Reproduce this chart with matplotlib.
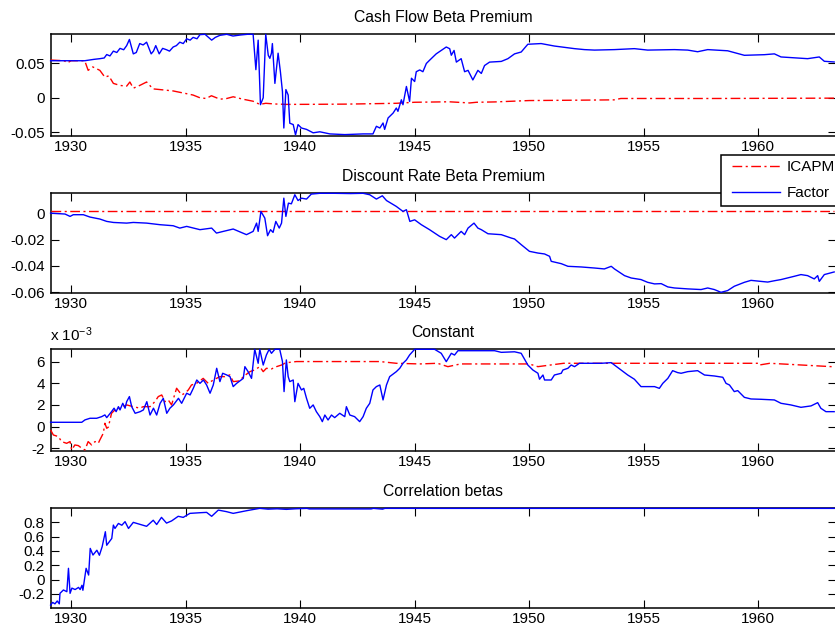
import numpy as np
import matplotlib
matplotlib.use('Agg')
import matplotlib.pyplot as plt
from matplotlib.lines import Line2D
from matplotlib.patches import Rectangle
from matplotlib.legend_handler import HandlerLine2D

plt.rcParams['font.family'] = 'Liberation Sans'
plt.rcParams['font.size'] = 11
plt.rcParams['axes.unicode_minus'] = False
plt.rcParams['mathtext.default'] = 'regular'

# ── data ────────────────────────────────────────────────────────────────────
# Cash flow beta premium
cf_factor_year = [
    1929.11, 1930.60, 1930.80, 1931.00, 1931.26, 1931.45, 1931.56, 1931.70, 1931.85, 1932.00,
    1932.14, 1932.30, 1932.43, 1932.55, 1932.72, 1932.85, 1933.00, 1933.15, 1933.30, 1933.50,
    1933.60, 1933.70, 1933.85, 1934.00, 1934.17, 1934.30, 1934.46, 1934.60, 1934.75, 1934.90,
    1935.05, 1935.20, 1935.33, 1935.50, 1935.63, 1935.85, 1936.00, 1936.14, 1936.30, 1936.50,
    1936.80, 1937.07, 1937.40, 1937.70, 1937.95, 1938.07, 1938.17, 1938.27, 1938.39, 1938.50,
    1938.61, 1938.68, 1938.75, 1938.79, 1938.90, 1939.04, 1939.14, 1939.23, 1939.29, 1939.38,
    1939.48, 1939.55, 1939.70, 1939.80, 1939.91, 1940.06, 1940.28, 1940.57, 1940.86, 1941.30,
    1941.95, 1942.75, 1943.18, 1943.33, 1943.48, 1943.62, 1943.69, 1943.84, 1944.06, 1944.20,
    1944.27, 1944.42, 1944.49, 1944.64, 1944.78, 1944.86, 1945.00, 1945.07, 1945.22, 1945.36,
    1945.51, 1945.66, 1945.94, 1946.16, 1946.38, 1946.53, 1946.60, 1946.72, 1946.82, 1947.03,
    1947.18, 1947.33, 1947.54, 1947.76, 1947.91, 1948.05, 1948.27, 1948.78, 1949.07, 1949.36,
    1949.65, 1949.94, 1950.52, 1951.10, 1951.98, 1952.41, 1952.85, 1953.72, 1954.59, 1955.17,
    1956.34, 1956.92, 1957.35, 1957.79, 1958.66, 1959.39, 1960.26, 1960.70, 1960.99, 1962.15,
    1962.66, 1962.88, 1963.31]
cf_factor = [
    0.054, 0.054, 0.055, 0.056, 0.057, 0.058, 0.063, 0.061, 0.068, 0.066,
    0.072, 0.070, 0.076, 0.085, 0.064, 0.066, 0.079, 0.077, 0.081, 0.064,
    0.068, 0.076, 0.064, 0.072, 0.070, 0.068, 0.074, 0.076, 0.081, 0.079,
    0.086, 0.084, 0.088, 0.086, 0.092, 0.0925, 0.088, 0.084, 0.088, 0.091,
    0.0925, 0.090, 0.0915, 0.0925, 0.0925, 0.041, 0.084, -0.010, 0.000, 0.0925,
    0.062, 0.0575, 0.065, 0.079, 0.021, 0.065, 0.038, 0.009, -0.044, 0.012,
    0.004, -0.037, -0.039, -0.054, -0.039, -0.044, -0.046, -0.051, -0.0495, -0.0526,
    -0.0536, -0.0526, -0.0526, -0.0415, -0.044, -0.0367, -0.046, -0.0294, -0.0222, -0.0149,
    -0.0197, -0.0029, -0.0101, 0.0165, -0.0053, 0.0285, 0.0237, 0.038, 0.0406, 0.038,
    0.050, 0.055, 0.064, 0.069, 0.074, 0.0715, 0.062, 0.069, 0.052, 0.057,
    0.038, 0.040, 0.026, 0.040, 0.0355, 0.047, 0.052, 0.053, 0.057, 0.064,
    0.0667, 0.078, 0.079, 0.0754, 0.0716, 0.0702, 0.0695, 0.0702, 0.0716, 0.0695,
    0.0702, 0.0695, 0.0671, 0.0702, 0.0685, 0.0619, 0.0628, 0.064, 0.0595, 0.057,
    0.0595, 0.0532, 0.0522]
cf_icapm_year = [
    1929.11, 1929.70, 1929.85, 1930.00, 1930.60, 1930.75, 1930.95, 1931.26, 1931.48, 1931.65,
    1931.85, 1932.14, 1932.43, 1932.57, 1932.72, 1933.00, 1933.30, 1933.58, 1933.88, 1934.17,
    1934.46, 1934.75, 1935.05, 1935.33, 1935.63, 1935.90, 1936.13, 1936.50, 1936.80, 1937.08,
    1937.50, 1937.95, 1938.24, 1938.50, 1938.90, 1939.40, 1940.50, 1942.00, 1943.30, 1944.20,
    1945.00, 1946.50, 1947.40, 1947.70, 1948.50, 1950.00, 1952.00, 1953.70, 1954.00, 1958.00,
    1963.31]
cf_icapm = [
    0.055, 0.054, 0.051, 0.054, 0.054, 0.040, 0.045, 0.040, 0.030, 0.032,
    0.021, 0.018, 0.017, 0.023, 0.014, 0.018, 0.023, 0.013, 0.012, 0.011,
    0.010, 0.008, 0.006, 0.004, 0.000, -0.001, 0.003, -0.002, -0.001, 0.0015,
    -0.002, -0.005, -0.0096, -0.008, -0.009, -0.0096, -0.0095, -0.0092, -0.0085, -0.008,
    -0.0065, -0.0058, -0.0075, -0.0065, -0.006, -0.004, -0.0035, -0.003, -0.001, -0.001,
    -0.0005]

# Discount rate beta premium
dr_factor_year = [
    1929.11, 1929.74, 1929.96, 1930.10, 1930.54, 1930.83, 1931.26, 1931.56, 1931.85, 1932.43,
    1932.72, 1933.30, 1933.88, 1934.46, 1934.75, 1935.05, 1935.63, 1936.14, 1936.35, 1936.65,
    1937.08, 1937.66, 1937.95, 1938.10, 1938.17, 1938.29, 1938.46, 1938.58, 1938.71, 1938.82,
    1938.94, 1939.09, 1939.19, 1939.29, 1939.38, 1939.49, 1939.62, 1939.77, 1939.91, 1940.06,
    1940.28, 1940.49, 1940.86, 1941.50, 1942.20, 1942.75, 1943.04, 1943.33, 1943.59, 1943.77,
    1944.20, 1944.49, 1944.64, 1944.79, 1945.00, 1945.29, 1945.65, 1946.09, 1946.38, 1946.60,
    1946.74, 1947.03, 1947.18, 1947.33, 1947.59, 1947.76, 1947.91, 1948.20, 1948.78, 1949.22,
    1949.36, 1949.65, 1950.01, 1950.38, 1950.67, 1950.89, 1950.96, 1951.40, 1951.69, 1952.27,
    1952.85, 1953.28, 1953.58, 1953.72, 1954.16, 1954.45, 1954.88, 1955.17, 1955.47, 1955.76,
    1956.05, 1956.34, 1956.92, 1957.50, 1957.79, 1958.08, 1958.37, 1958.66, 1958.95, 1959.39,
    1959.68, 1960.12, 1960.41, 1960.70, 1960.99, 1961.57, 1961.86, 1962.15, 1962.44, 1962.59,
    1962.66, 1962.88, 1963.31]
dr_factor = [
    0.0001, -0.0006, -0.0024, -0.0011, -0.0011, -0.0029, -0.0044, -0.0062, -0.0070, -0.0075,
    -0.0070, -0.0075, -0.0087, -0.0095, -0.0113, -0.0100, -0.0125, -0.0113, -0.0151, -0.0138,
    -0.0120, -0.0163, -0.0138, -0.0075, -0.0138, 0.0014, -0.0037, -0.0171, -0.0125, -0.0146,
    -0.0062, -0.0113, -0.0075, 0.0115, -0.0024, 0.0077, 0.0072, 0.0141, 0.0097, 0.0115,
    0.0108, 0.0146, 0.0152, 0.0152, 0.0150, 0.0152, 0.0141, 0.0108, 0.0133, 0.0097,
    0.0052, 0.0014, 0.0027, -0.0062, -0.0050, -0.0087, -0.0125, -0.0176, -0.0201, -0.0163,
    -0.0189, -0.0138, -0.0163, -0.0113, -0.0075, -0.0113, -0.0125, -0.0156, -0.0163, -0.0189,
    -0.0196, -0.0239, -0.0290, -0.0303, -0.0310, -0.0328, -0.0366, -0.0384, -0.0404, -0.0409,
    -0.0417, -0.0424, -0.0404, -0.0424, -0.0475, -0.0493, -0.0505, -0.0526, -0.0538, -0.0536,
    -0.0561, -0.0569, -0.0576, -0.0581, -0.0569, -0.0581, -0.0602, -0.0589, -0.0556, -0.0526,
    -0.0511, -0.0519, -0.0524, -0.0514, -0.0505, -0.0480, -0.0467, -0.0475, -0.0500, -0.0475,
    -0.0519, -0.0467, -0.0447]
dr_icapm_year = [1929.11, 1963.31]
dr_icapm = [0.0018, 0.0018]

# Constant (units of 1e-3)
const_factor_year = [
    1929.11, 1930.47, 1930.61, 1930.83, 1931.12, 1931.34, 1931.48, 1931.56, 1931.77, 1931.88,
    1931.97, 1932.07, 1932.14, 1932.26, 1932.36, 1932.43, 1932.55, 1932.65, 1932.80, 1933.02,
    1933.16, 1933.31, 1933.45, 1933.60, 1933.74, 1933.89, 1934.03, 1934.18, 1934.32, 1934.47,
    1934.69, 1934.83, 1935.05, 1935.20, 1935.34, 1935.49, 1935.63, 1935.78, 1935.92, 1936.07,
    1936.21, 1936.36, 1936.50, 1936.62, 1936.79, 1936.94, 1937.08, 1937.23, 1937.52, 1937.59,
    1937.73, 1937.88, 1938.02, 1938.17, 1938.24, 1938.39, 1938.53, 1938.65, 1938.75, 1938.90,
    1939.11, 1939.23, 1939.30, 1939.40, 1939.48, 1939.55, 1939.70, 1939.77, 1939.91, 1940.06,
    1940.16, 1940.28, 1940.42, 1940.57, 1940.71, 1940.86, 1940.97, 1941.08, 1941.22, 1941.37,
    1941.51, 1941.73, 1941.95, 1942.02, 1942.17, 1942.38, 1942.60, 1942.75, 1942.89, 1943.04,
    1943.18, 1943.33, 1943.48, 1943.62, 1943.77, 1943.91, 1944.20, 1944.35, 1944.49, 1944.64,
    1944.78, 1945.00, 1945.87, 1946.16, 1946.38, 1946.60, 1946.74, 1946.89, 1947.62, 1948.49,
    1948.78, 1949.36, 1949.65, 1949.94, 1950.16, 1950.38, 1950.45, 1950.60, 1950.67, 1950.96,
    1951.10, 1951.40, 1951.47, 1951.69, 1951.83, 1951.98, 1952.19, 1952.56, 1953.14, 1953.58,
    1953.72, 1954.01, 1954.30, 1954.59, 1954.88, 1955.47, 1955.68, 1955.83, 1956.05, 1956.26,
    1956.48, 1956.63, 1956.92, 1957.35, 1957.65, 1958.08, 1958.45, 1958.59, 1958.74, 1958.95,
    1959.10, 1959.39, 1959.68, 1960.12, 1960.70, 1960.99, 1961.42, 1961.86, 1962.30, 1962.59,
    1962.73, 1962.95, 1963.31]
const_factor = [
    0.40, 0.40, 0.62, 0.77, 0.77, 0.92, 1.08, 0.83, 1.38, 1.70,
    1.38, 1.84, 1.54, 2.15, 1.70, 2.30, 2.77, 1.84, 1.23, 1.38,
    1.54, 2.30, 1.07, 1.70, 1.07, 2.15, 2.61, 1.23, 1.70, 2.00,
    2.61, 2.15, 3.08, 2.92, 3.54, 4.30, 3.99, 4.30, 3.84, 3.08,
    3.84, 5.38, 4.15, 4.92, 4.77, 4.61, 3.69, 3.99, 4.45, 5.53,
    5.07, 4.45, 7.13, 5.84, 7.13, 5.68, 6.61, 7.13, 6.76, 7.13,
    7.13, 6.00, 3.23, 6.15, 4.61, 4.15, 4.30, 2.30, 3.99, 3.38,
    3.53, 2.61, 1.69, 2.00, 1.38, 0.92, 0.46, 1.07, 0.61, 1.07,
    0.83, 1.23, 0.92, 1.84, 1.07, 0.92, 0.46, 0.92, 1.69, 2.15,
    3.38, 3.69, 3.84, 2.46, 3.84, 4.61, 5.07, 5.38, 5.84, 6.15,
    6.61, 7.13, 7.13, 6.76, 5.99, 6.76, 6.60, 7.00, 7.00, 7.00,
    6.85, 6.90, 6.76, 5.68, 5.22, 4.92, 4.37, 4.76, 4.30, 4.30,
    4.76, 4.92, 5.22, 5.38, 5.68, 5.53, 5.84, 5.84, 5.84, 5.90,
    5.68, 5.22, 4.76, 4.37, 3.69, 3.69, 3.53, 3.99, 4.45, 5.16,
    4.98, 4.92, 5.07, 5.16, 4.76, 4.67, 4.55, 3.99, 3.84, 3.23,
    3.32, 2.70, 2.55, 2.52, 2.46, 2.15, 2.00, 1.78, 1.91, 2.21,
    1.69, 1.38, 1.38]
const_icapm_year = [
    1929.11, 1929.23, 1929.45, 1929.59, 1929.81, 1929.96, 1930.03, 1930.17, 1930.32, 1930.47,
    1930.61, 1930.75, 1930.90, 1931.05, 1931.19, 1931.26, 1931.41, 1931.48, 1931.56, 1931.63,
    1931.77, 1931.92, 1932.14, 1932.43, 1932.72, 1933.01, 1933.15, 1933.45, 1933.66, 1933.81,
    1933.96, 1934.10, 1934.25, 1934.39, 1934.61, 1934.83, 1934.97, 1935.12, 1935.26, 1935.48,
    1935.77, 1935.99, 1936.21, 1936.50, 1936.72, 1936.93, 1937.08, 1937.37, 1937.52, 1937.81,
    1938.02, 1938.24, 1938.39, 1938.53, 1938.75, 1938.97, 1939.19, 1939.33, 1939.55, 1939.84,
    1941.30, 1943.48, 1944.20, 1945.22, 1946.00, 1946.45, 1947.00, 1950.00, 1950.38, 1951.50,
    1955.00, 1960.00, 1960.04, 1960.50, 1963.20, 1963.31]
const_icapm = [
    -0.30, -0.77, -0.92, -1.38, -1.54, -1.38, -2.15, -1.69, -1.75, -1.99,
    -2.15, -1.38, -1.69, -1.38, -1.54, -1.23, -0.61, 0.31, -0.15, -0.05,
    1.23, 1.54, 1.70, 2.00, 1.84, 1.70, 1.84, 1.84, 2.30, 2.77,
    2.92, 2.30, 2.45, 2.00, 3.54, 2.92, 3.08, 3.38, 3.84, 3.99,
    4.45, 3.99, 4.30, 4.61, 4.61, 4.77, 4.15, 4.22, 4.61, 5.07,
    5.23, 5.53, 5.07, 5.38, 5.32, 5.53, 5.68, 5.84, 5.93, 6.00,
    6.00, 6.00, 5.84, 5.78, 5.84, 5.53, 5.78, 5.78, 5.53, 5.84,
    5.84, 5.84, 5.68, 5.84, 5.53, 5.53]

# Correlation of betas
corr_year = [
    1929.11, 1929.20, 1929.30, 1929.40, 1929.49, 1929.52, 1929.67, 1929.82, 1929.89, 1929.96,
    1930.04, 1930.18, 1930.33, 1930.40, 1930.48, 1930.52, 1930.66, 1930.77, 1930.84, 1930.96,
    1931.13, 1931.24, 1931.36, 1931.50, 1931.56, 1931.78, 1931.85, 1931.92, 1932.07, 1932.22,
    1932.36, 1932.51, 1932.72, 1933.30, 1933.59, 1933.74, 1933.95, 1934.17, 1934.39, 1934.68,
    1934.90, 1935.19, 1935.63, 1935.92, 1936.14, 1936.43, 1936.79, 1937.08, 1937.66, 1937.95,
    1938.24, 1938.60, 1939.00, 1939.40, 1939.80, 1940.30, 1940.40, 1943.10, 1943.20, 1943.60,
    1943.70, 1963.31]
corr_betas = [
    -0.357, -0.32, -0.34, -0.30, -0.34, -0.193, -0.146, -0.17, 0.157, -0.193,
    -0.12, -0.14, -0.11, -0.14, -0.08, -0.15, 0.157, 0.063, 0.436, 0.343,
    0.41, 0.34, 0.459, 0.669, 0.48, 0.575, 0.762, 0.715, 0.785, 0.76,
    0.81, 0.715, 0.80, 0.745, 0.83, 0.77, 0.87, 0.79, 0.82, 0.885,
    0.87, 0.926, 0.935, 0.94, 0.885, 0.972, 0.95, 0.926, 0.963, 0.98,
    0.996, 0.985, 0.99, 0.982, 0.99, 0.996, 0.988, 0.988, 0.996, 0.985,
    0.996, 0.996]

x_ticks = [1930, 1935, 1940, 1945, 1950, 1955, 1960]

# ── layout (pixel box of each panel in the 835x629 frame) ───────────────────
W, H = 835, 629
XLIM = (1929.106, 1963.39)
DASHDOT = (0, (7, 2.5, 1.5, 2.5))


def panel_rect(top, bottom, left=50.5, right=836.0):
    return [left / W, 1 - bottom / H, (right - left) / W, (bottom - top) / H]


panels = [
    dict(title='Cash Flow Beta Premium', box=(34.3, 135.7), ylim=(-0.0552, 0.0925),
         yticks=[-0.05, 0, 0.05],
         icapm=(cf_icapm_year, cf_icapm), factor=(cf_factor_year, cf_factor)),
    dict(title='Discount Rate Beta Premium', box=(193.3, 292.7), ylim=(-0.0605, 0.0152),
         yticks=[-0.06, -0.04, -0.02, 0],
         icapm=(dr_icapm_year, dr_icapm), factor=(dr_factor_year, dr_factor)),
    dict(title='Constant', box=(349.3, 450.7), ylim=(-2.22, 7.13),
         yticks=[-2, 0, 2, 4, 6],
         icapm=(const_icapm_year, const_icapm), factor=(const_factor_year, const_factor)),
    dict(title='Correlation betas', box=(508.3, 607.7), ylim=(-0.394, 0.997),
         yticks=[-0.2, 0, 0.2, 0.4, 0.6, 0.8],
         icapm=None, factor=(corr_year, corr_betas)),
]

fig = plt.figure(figsize=(W / 100, H / 100), dpi=100)

for p in panels:
    ax = fig.add_axes(panel_rect(*p['box']))
    if p['icapm'] is not None:
        ax.plot(*p['icapm'], color='red', lw=1.0, linestyle=DASHDOT,
                zorder=3, clip_on=False)
    ax.plot(*p['factor'], color='blue', lw=1.0, zorder=3, clip_on=False)

    ax.set_xlim(*XLIM)
    ax.set_ylim(*p['ylim'])
    ax.set_xticks(x_ticks)
    ax.set_xticklabels([str(t) for t in x_ticks])
    ax.set_yticks(p['yticks'])
    ax.set_yticklabels(['%g' % t for t in p['yticks']])
    ax.tick_params(direction='in', length=5.5, width=0.8, top=True, right=True,
                   labelsize=11)
    ax.tick_params(axis='y', pad=4)
    ax.tick_params(axis='x', pad=3)
    for s in ax.spines.values():
        s.set_linewidth(1.1)
    ax.set_title(p['title'], fontsize=11.3, pad=9)

fig.text(50.5 / W, 1 - 341 / H, r'x 10$^{-3}$', fontsize=11, va='baseline')

# legend box runs past the right edge of the frame, as in the original crop
box_top, box_bottom = 154.5, 206.0
fig.patches.append(Rectangle((721 / W, 1 - box_bottom / H), 130 / W,
                             (box_bottom - box_top) / H, transform=fig.transFigure,
                             facecolor='white', edgecolor='black', lw=1.1,
                             zorder=4.9, clip_on=False))
handles = [Line2D([], [], color='red', lw=1.0, linestyle=DASHDOT),
           Line2D([], [], color='blue', lw=1.0)]
trimmed = HandlerLine2D(numpoints=2, marker_pad=0.39)
leg = fig.legend(handles, ['ICAPM', 'Factor'], loc='upper left',
                 bbox_to_anchor=(721 / W, 1 - 155.5 / H), borderaxespad=0,
                 frameon=False, borderpad=0.3, handlelength=3.93, handletextpad=0.05,
                 labelspacing=0.8, fontsize=11,
                 handler_map={h: trimmed for h in handles})
leg.set_zorder(5)

fig.savefig('out.png', dpi=100)
